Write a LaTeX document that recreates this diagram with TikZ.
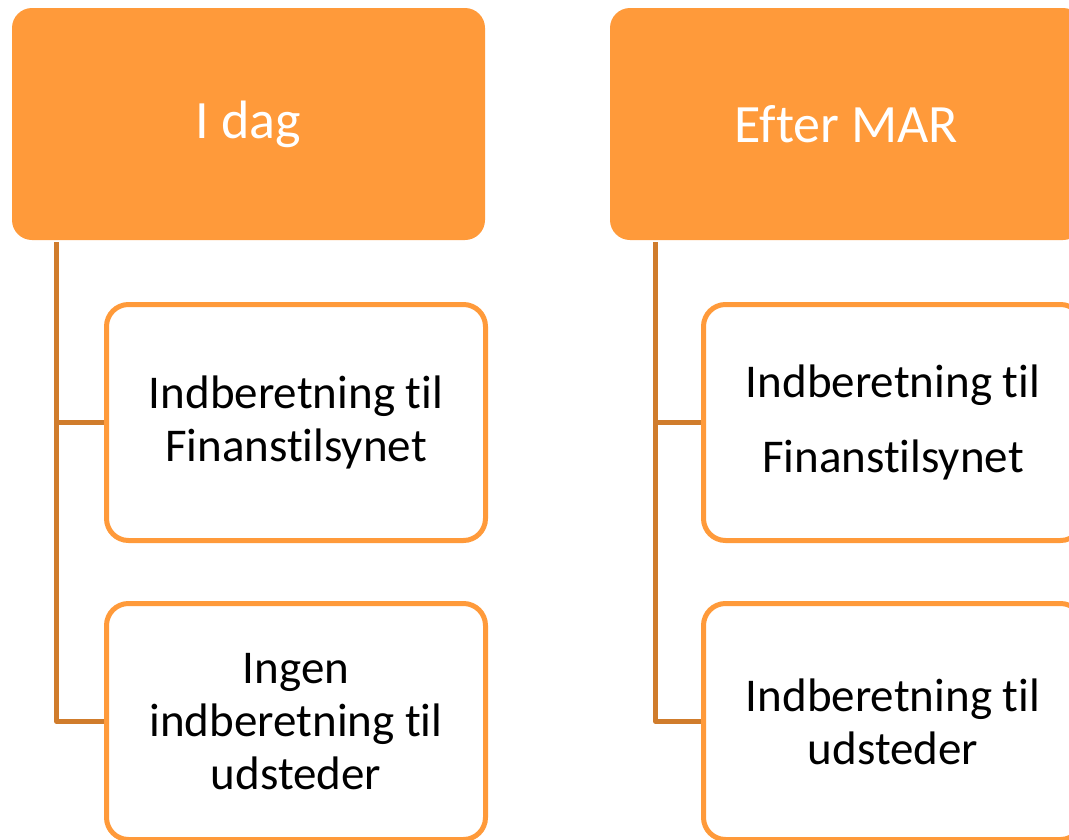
\documentclass[tikz,border=0pt]{standalone}
\usepackage{fontspec}
\setmainfont{Carlito}[Ligatures={NoCommon}]
\definecolor{accent}{HTML}{FF9A3A}
\definecolor{linkcol}{HTML}{D07C2C}

\begin{document}
\begin{tikzpicture}[x=1pt, y=-1pt,
        head/.style = {shape=rectangle, rounded corners=20pt, fill=accent,
          text=white, minimum width=473pt, minimum height=232pt,
          font=\fontsize{54}{65}\selectfont},
        item/.style = {shape=rectangle, rounded corners=22pt, draw=accent,
          line width=5pt, fill=white, align=center,
          minimum width=379pt, minimum height=236pt,
          font=\fontsize{47}{53}\selectfont},
        link/.style = {draw=linkcol, line width=5pt, line join=round}]
      \useasboundingbox (0,0) rectangle (1069,839);
      \clip (0,0) rectangle (1069,839);
      % headers
      \node[head] (today) at (248.5,124) {I dag};
      \node[head] (after) at (846.5,124) {Efter MAR};
      % left column
      \node[item] (todayfin) at (296,422.5) {Indberetning til\\Finanstilsynet};
      \node[item] (todayiss) at (296,721.5) {Ingen\\indberetning til\\udsteder};
      % right column
      \node[item, font=\fontsize{47}{75}\selectfont] (afterfin) at (893,422.5)
        {Indberetning til\\Finanstilsynet};
      \node[item] (afteriss) at (893,721.5) {Indberetning til\\udsteder};
      % connectors
      \draw[link] ([xshift=45pt, yshift=-2pt]today.south west) |- (todayfin.west);
      \draw[link] ([xshift=45pt, yshift=-2pt]today.south west) |- (todayiss.west);
      \draw[link] ([xshift=46pt, yshift=-2pt]after.south west) |- (afterfin.west);
      \draw[link] ([xshift=46pt, yshift=-2pt]after.south west) |- (afteriss.west);
\end{tikzpicture}
\end{document}
